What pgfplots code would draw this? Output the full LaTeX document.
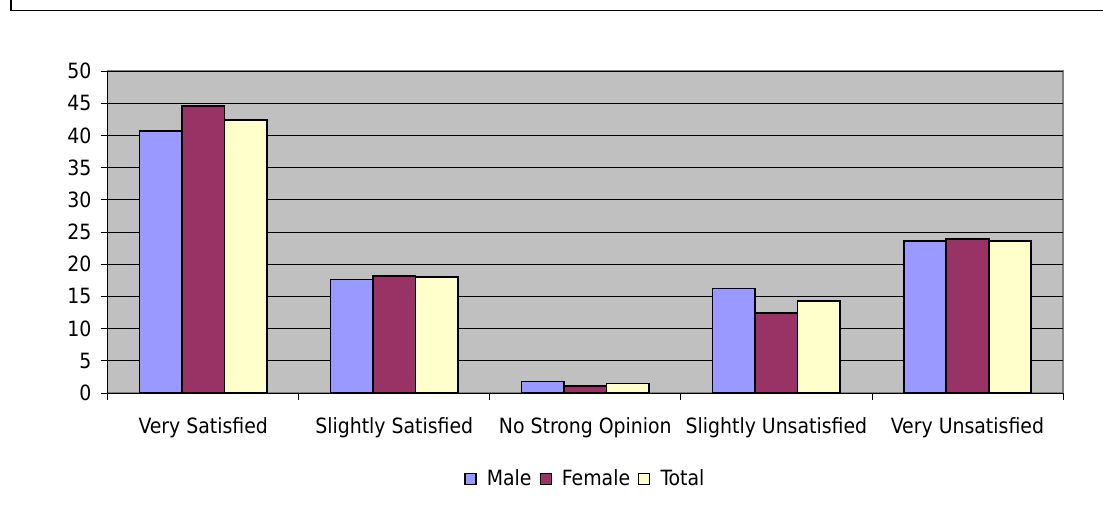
\documentclass[border=0pt]{standalone}
\usepackage{pgfplots}
\pgfplotsset{compat=1.18}
\usepackage{fontspec}
\setmainfont{DejaVu Sans Condensed}
\definecolor{male}{HTML}{9999FF}
\definecolor{female}{HTML}{993366}
\definecolor{total}{HTML}{FFFFCC}
\definecolor{plotbg}{HTML}{C0C0C0}
\begin{document}
\fontsize{21}{25}\selectfont
\begin{tikzpicture}
\useasboundingbox (0pt,0pt) rectangle (1103pt,515pt);
\draw[line width=1.6pt] (11pt,515pt) -- (11pt,504.5pt) -- (1103pt,504.5pt);
\begin{axis}[
  at={(107.7pt,122pt)}, anchor=south west,
  scale only axis, width=955.3pt, height=322pt,
  xmin=-0.5, xmax=4.5, ymin=0, ymax=50,
  ytick={0,5,...,50},
  xtick={-0.5,0.5,...,4.5}, xticklabels={},
  extra x ticks={0,1,2,3,4},
  extra x tick labels={Very Satisfied,Slightly Satisfied,No Strong Opinion,Slightly Unsatisfied,Very Unsatisfied},
  extra x tick style={major tick length=0pt},
  axis x line*=bottom, axis y line*=left,
  axis line style={black, line width=0.9pt},
  tick align=outside, major tick length=7pt,
  tick style={black, line width=0.9pt},
  ymajorgrids, grid style={black, line width=0.9pt},
  axis background/.style={fill=plotbg, draw=gray, line width=1.5pt},
  /pgf/number format/assume math mode=true,
  tick label style={font=\fontsize{21}{25}\selectfont},
  xticklabel style={yshift=-17pt},
  yticklabel style={xshift=-2pt},
  ybar=0pt, bar width=42.5pt,
  legend style={at={(0.5,-0.267)}, anchor=center, draw=none, fill=none,
    legend columns=3, font=\fontsize{21}{25}\selectfont,
    /tikz/every even column/.append style={column sep=6pt}},
  legend image code/.code={\draw[#1, line width=1.2pt] (0pt,-5.5pt) rectangle (11pt,5.5pt); \path (19pt,0pt);},
]
\addplot[fill=male, draw=black, line width=1.6pt] coordinates {(0,40.7) (1,17.6) (2,1.8) (3,16.2) (4,23.6)};
\addplot[fill=female, draw=black, line width=1.6pt] coordinates {(0,44.6) (1,18.2) (2,1.1) (3,12.4) (4,23.9)};
\addplot[fill=total, draw=black, line width=1.6pt] coordinates {(0,42.4) (1,18.0) (2,1.5) (3,14.3) (4,23.6)};
\legend{Male,Female,Total}
\end{axis}
\end{tikzpicture}
\end{document}
